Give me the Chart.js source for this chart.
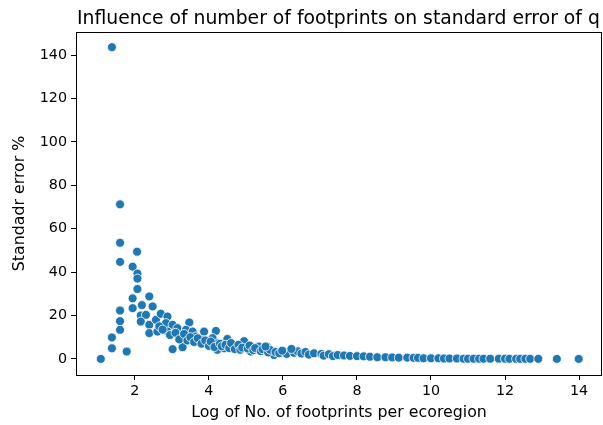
<!DOCTYPE html>
<html lang="en">
  <head>
    <meta charset="UTF-8" />
    <title>Standard error vs footprints</title>
    <style>
      html, body { margin: 0; padding: 0; background: #fff; overflow: hidden; }
      canvas { display: block; }
    </style>
  </head>
  <body>
    <canvas id="myChart" width="603" height="425" style="width:603px;height:425px"></canvas>
    <script src="https://cdn.jsdelivr.net/npm/chart.js"></script>
    <script>
      const chartTitle = "Influence of number of footprints on standard error of q";
      const xTicks = [2, 4, 6, 8, 10, 12, 14];
      const yTicks = [0, 20, 40, 60, 80, 100, 120, 140];

      // log of footprints per ecoregion
      const xValues = [
        1.08, 1.38, 1.38, 1.38, 1.6, 1.6, 1.6, 1.6, 1.6, 1.6, 1.78,
        1.94, 1.94, 1.94, 2.06, 2.07, 2.07, 2.07, 2.19, 2.16, 2.3, 2.16,
        2.39, 2.48, 2.39, 2.39, 2.57, 2.7, 2.61, 2.88, 2.84, 3.02, 2.88,
        3.15, 3.47, 3.38, 3.56, 3.24, 3.64, 3.87, 4.19, 4.1, 3.78, 3.02,
        3.29, 3.96, 4.23, 4.5, 4.95, 5.35, 5.57, 5.71, 4.23, 4.41, 4.77,
        5.13, 5.76, 2.66, 2.75, 2.95, 3.1, 3.2, 3.33, 3.42, 3.5, 3.6,
        3.7, 3.8, 3.9, 4.0, 4.05, 4.15, 4.3, 4.35, 4.45, 4.55, 4.6, 4.7,
        4.8, 4.85, 4.9, 5.05, 5.1, 5.2, 5.25, 5.4, 5.45, 5.6, 5.65, 5.8,
        5.9, 6.05, 6.1, 6.3, 6.4, 6.5, 5.53, 5.98, 6.23, 6.61, 6.7, 6.84,
        7.04, 7.1, 7.24, 7.35, 7.48, 7.65, 7.81, 8.0, 8.18, 8.35, 8.55,
        8.77, 8.95, 9.13, 9.36, 9.53, 9.65, 9.8, 10.0, 10.2, 10.35, 10.5,
        10.7, 10.88, 11.0, 11.15, 11.3, 11.42, 11.6, 11.83, 12.0, 12.12,
        12.3, 12.41, 12.55, 12.68, 12.9, 13.4, 13.99
      ];

      // standard error %
      const yValues = [
        0, 4.9, 9.9, 143.6, 71.2, 53.5, 44.7, 22.3, 17.4, 13.4, 3.4,
        42.5, 27.9, 23.4, 49.4, 39.3, 37, 32.2, 24.8, 20, 20.3, 17.2,
        28.8, 24.2, 15.7, 11.9, 18, 20.8, 12.6, 19.5, 16.5, 15.7, 12.6,
        14.2, 16.8, 13.4, 12.6, 10.3, 10.3, 12.6, 12.9, 9.6, 8.8, 4.5,
        5.4, 6.5, 4.2, 9.2, 8.2, 5.7, 5.7, 3.7, 7.2, 4.9, 5.7,
        3.4, 1.8, 15, 13.5, 11, 12, 9, 11.5, 8.5, 10, 7.8,
        9.5, 7, 8.5, 6, 8, 5.5, 7, 5.8, 6.5, 5, 7.3, 4.5,
        6.5, 4.2, 5.2, 4.8, 6.2, 4, 5, 3.6, 4.5, 3, 4.2, 3.2,
        2.6, 3.3, 2.3, 2.8, 3.5, 2.5, 5.7, 3.8, 4.6, 3.2, 2.0, 2.6,
        2.3, 1.5, 2.2, 1.3, 1.8, 1.6, 1.4, 1.3, 1.2, 1.0, 0.8,
        0.8, 0.7, 0.6, 0.6, 0.5, 0.5, 0.3, 0.3, 0.3, 0.2, 0.2,
        0.2, 0.1, 0.1, 0.1, 0.1, 0.1, 0.1, 0.1, 0.1, 0.05,
        0.05, 0.05, 0.05, 0.05, 0.05, 0.02, 0.01
      ];

      const points = xValues.map((x, i) => ({ x: x, y: yValues[i] }));

      const font = "'DejaVu Sans', sans-serif";

      const framePlugin = {
        id: "frame",
        afterDraw(chart) {
          const { ctx, chartArea: a } = chart;
          ctx.save();
          ctx.strokeStyle = "#000";
          ctx.lineWidth = 1;
          ctx.strokeRect(a.left + 0.5, a.top + 0.5, a.right - a.left - 1, a.bottom - a.top);
          ctx.fillStyle = "#000";
          ctx.font = "18.8px " + font;
          ctx.textAlign = "left";
          ctx.textBaseline = "alphabetic";
          ctx.fillText(chartTitle, a.left + 1, 24);
          ctx.restore();
        }
      };

      new Chart(document.getElementById("myChart"), {
        type: "scatter",
        data: {
          datasets: [
            {
              data: points,
              backgroundColor: "#1f77b4",
              borderColor: "#ffffff",
              borderWidth: 0.8,
              pointRadius: 4.5,
              pointHoverRadius: 4.5
            }
          ]
        },
        options: {
          responsive: false,
          animation: false,
          events: [],
          layout: { autoPadding: false, padding: { top: 32, right: 1, left: 0, bottom: 0 } },
          plugins: {
            legend: { display: false },
            tooltip: { enabled: false }
          },
          scales: {
            x: {
              type: "linear",
              min: 0.41,
              max: 14.62,
              afterFit(scale) {
                scale.height = 50;
                scale.paddingLeft = 0;
                scale.paddingRight = 0;
              },
              afterBuildTicks(scale) { scale.ticks = xTicks.map(v => ({ value: v })); },
              grid: { drawOnChartArea: false, tickLength: 5, color: "#000" },
              border: { display: false },
              ticks: { color: "#000", font: { family: font, size: 14.3 }, padding: 3, maxRotation: 0 },
              title: {
                display: true,
                text: "Log of No. of footprints per ecoregion",
                color: "#000",
                font: { family: font, size: 15.8 },
                padding: { top: 0, bottom: 2.5 }
              }
            },
            y: {
              type: "linear",
              min: -7.4,
              max: 150.6,
              afterFit(scale) {
                scale.width = 76;
                scale.paddingTop = 0;
                scale.paddingBottom = 0;
              },
              afterBuildTicks(scale) { scale.ticks = yTicks.map(v => ({ value: v })); },
              grid: { drawOnChartArea: false, tickLength: 5, color: "#000" },
              border: { display: false },
              ticks: { color: "#000", font: { family: font, size: 14.3 }, padding: 4 },
              title: {
                display: true,
                text: "Standadr error %",
                color: "#000",
                font: { family: font, size: 15.8 },
                padding: { top: 10.5, bottom: 0 }
              }
            }
          }
        },
        plugins: [framePlugin]
      });
    </script>
  </body>
</html>
